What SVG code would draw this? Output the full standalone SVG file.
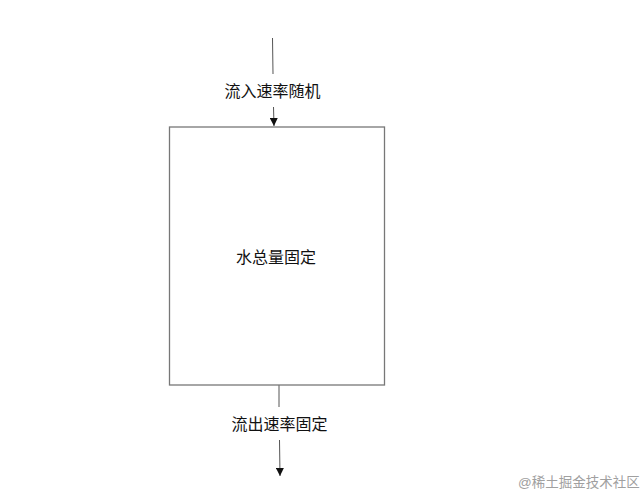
<svg xmlns="http://www.w3.org/2000/svg" width="642" height="494" viewBox="0 0 642 494">
<style>
.t{font-family:"Liberation Sans","Noto Sans CJK SC",sans-serif;font-size:16px;fill:#111;text-anchor:middle;dominant-baseline:central}
.c{stroke:#555;stroke-width:1;fill:none}
.wm{font-family:"Liberation Sans","Noto Sans CJK SC",sans-serif;font-size:13.5px;fill:#a0a0a0;dominant-baseline:central}
</style>
<defs>
<marker id="ah" viewBox="0 0 10 10" refX="10" refY="5" markerWidth="8" markerHeight="8" markerUnits="userSpaceOnUse" orient="auto">
<path d="M0,0 L10,5 L0,10 z" fill="#111"/>
</marker>
</defs>
<rect width="642" height="494" fill="#fff"/>
<g id="connectors">
<line class="c" x1="272.5" y1="38" x2="273" y2="74"/>
<line class="c" x1="273.5" y1="107" x2="274" y2="126" marker-end="url(#ah)"/>
<line class="c" x1="279" y1="385" x2="279" y2="407"/>
<line class="c" x1="279.5" y1="440" x2="280" y2="476" marker-end="url(#ah)"/>
</g>
<g id="label-in"><text class="t" x="272.5" y="91">流入速率随机</text></g>
<g id="label-out"><text class="t" x="279.5" y="424">流出速率固定</text></g>
<g id="tank">
<rect x="169.5" y="127" width="215" height="258" fill="#fff" stroke="#777" stroke-width="1.3"/>
<text class="t" x="276" y="257">水总量固定</text>
</g>
<text class="wm" x="518" y="482">@稀土掘金技术社区</text>
</svg>
